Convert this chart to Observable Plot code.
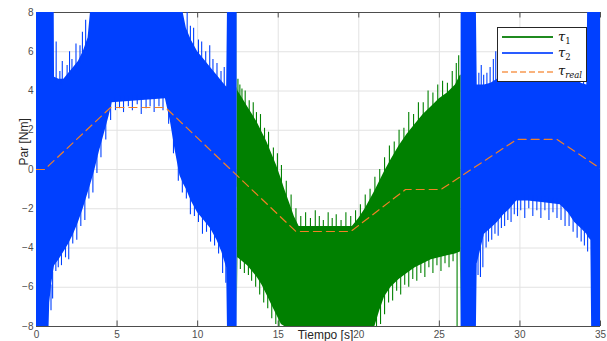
<!DOCTYPE html>
<html>
<head>
<meta charset="utf-8">
<script src="https://cdn.jsdelivr.net/npm/d3@7"></script>
<script src="https://cdn.jsdelivr.net/npm/@observablehq/plot@0.6"></script>
<style>
  body { margin: 0; background: #fff; }
  #wrap { position: relative; width: 607px; height: 341px; overflow: hidden; }
  #legend { position: absolute; left: 497px; top: 27px; width: 88px; height: 53px; border: 1px solid #262626; background: #fff; }
  .sw { position: absolute; left: 4px; width: 51px; height: 2px; }
  .swd { position: absolute; left: 4px; width: 51px; height: 0; border-top: 2px dashed #f9b27c; }
  .lab { position: absolute; left: 60px; font-family: "DejaVu Serif", "Liberation Serif", serif; font-style: italic; font-size: 13px; color: #111; line-height: 16px; white-space: nowrap; }
  .lab sub { font-size: 8.5px; vertical-align: -3px; }
</style>
</head>
<body>
<div id="wrap">
  <div id="chart"></div>
  <div id="legend">
    <div class="sw" style="top:8px; background-color:#1f8a1f"></div>
    <div class="sw" style="top:24px; background-color:#2a5cff"></div>
    <div class="swd" style="top:43px"></div>
    <div class="lab" style="top:1px">τ<sub style="font-style:normal">1</sub></div>
    <div class="lab" style="top:17px">τ<sub style="font-style:normal">2</sub></div>
    <div class="lab" style="top:35px">τ<sub>real</sub></div>
  </div>
</div>
<script>
// Axis ticks
const xTicks = [0, 5, 10, 15, 20, 25, 30, 35];
const yTicks = [-8, -6, -4, -2, 0, 2, 4, 6, 8];

// τ2 (blue), first active interval: time, lower / upper envelope of the dense signal
const tau2aT  = [0, 0.78, 0.82, 0.95, 1.1, 1.12, 1.4, 1.7, 2.0, 2.3, 2.6, 2.9, 3.2, 3.35, 3.6, 3.9, 4.2, 4.5, 4.7, 8.0, 8.3, 8.6, 8.9, 9.1, 9.3, 9.6, 10.0, 10.4, 10.8, 11.2, 11.5, 11.8, 11.85, 12.45];
const tau2aLo = [-8, -8, -6.8, -5.8, -5.0, -4.9, -4.6, -4.2, -3.8, -3.3, -2.7, -2.0, -1.2, -0.8, -0.1, 0.9, 1.8, 2.7, 3.4, 3.6, 2.5, 1.0, -0.3, -0.7, -1.0, -1.6, -2.2, -2.6, -3.0, -3.6, -4.2, -5.0, -8, -8];
const tau2aHi = [8, 8, 8, 8, 8, 4.7, 4.6, 4.6, 4.9, 5.2, 5.5, 6.0, 6.7, 8, 8, 8, 8, 8, 8, 8, 8, 8, 8, 8, 7.2, 6.6, 6.0, 5.6, 5.2, 4.8, 4.5, 4.2, 8, 8];
// spikes of τ2 beyond the envelope (time, tip value)
const tau2aUpT = [1.22, 1.45, 1.6, 1.9, 2.05, 2.2, 2.45, 2.7, 2.85, 3.05, 9.35, 9.55, 9.75, 10.05, 10.25, 10.5, 10.75, 10.95, 11.2, 11.45, 11.65];
const tau2aUpV = [6.5, 5.0, 5.5, 5.3, 6.0, 5.6, 6.4, 6.3, 7.0, 7.6, 8, 7.3, 7.2, 6.6, 6.5, 6.0, 6.3, 5.6, 5.4, 5.0, 5.2];
const tau2aDnT = [0.9, 1.0, 1.2, 1.35, 1.55, 1.8, 2.0, 2.25, 2.5, 2.75, 3.0, 3.25, 3.5, 3.75, 4.0, 4.3, 4.6, 4.9, 5.15, 5.4, 5.7, 5.95, 6.25, 6.5, 6.8, 7.05, 7.3, 7.6, 7.85, 8.2, 8.5, 8.8, 9.05, 9.3, 9.55, 9.8, 10.05, 10.3, 10.55, 10.8, 11.05, 11.3, 11.55, 11.75];
const tau2aDnV = [-7.2, -6.6, -5.2, -5.0, -4.9, -4.5, -4.6, -3.8, -3.6, -2.9, -2.6, -1.5, -1.2, -0.2, 0.6, 1.5, 2.5, 3.0, 3.1, 2.9, 3.2, 3.0, 3.3, 2.8, 3.1, 3.2, 2.9, 3.2, 3.0, 2.3, 0.8, -0.6, -1.2, -1.5, -2.3, -2.4, -2.7, -3.3, -3.2, -3.7, -3.9, -4.3, -5.3, -5.8];

// τ1 (green) active interval
const tau1T  = [12.45, 12.5, 12.8, 13.1, 13.4, 13.7, 14.0, 14.3, 14.6, 14.9, 15.2, 15.4, 15.7, 16.0, 16.3, 19.6, 20.0, 20.4, 20.8, 21.0, 21.3, 21.6, 22.0, 22.5, 23.0, 23.5, 24.0, 24.5, 25.0, 25.5, 26.0, 26.3, 26.35];
const tau1Lo = [-8, -4.5, -4.7, -4.9, -5.2, -5.5, -5.9, -6.4, -6.9, -7.4, -7.9, -8, -8, -8, -8, -8, -8, -8, -8, -8, -7.2, -6.5, -6.0, -5.6, -5.3, -5.0, -4.8, -4.6, -4.5, -4.4, -4.3, -4.2, -8];
const tau1Hi = [4.2, 4.0, 3.6, 3.2, 2.8, 2.4, 1.9, 1.4, 0.8, 0.2, -0.5, -1.0, -1.7, -2.4, -2.9, -2.9, -2.5, -2.0, -1.4, -1.1, -0.6, -0.1, 0.5, 1.2, 1.8, 2.3, 2.8, 3.2, 3.6, 3.9, 4.3, 4.8, 4.8];
const tau1UpT = [12.5, 12.62, 12.75, 12.95, 13.2, 13.45, 13.65, 13.9, 14.15, 14.4, 14.7, 14.95, 15.2, 15.5, 15.8, 16.1, 16.4, 16.7, 17.0, 17.3, 17.55, 17.8, 18.1, 18.35, 18.6, 18.9, 19.2, 19.5, 19.8, 20.1, 20.4, 20.7, 21.0, 21.3, 21.6, 21.9, 22.2, 22.5, 22.8, 23.1, 23.4, 23.7, 24.0, 24.3, 24.6, 24.9, 25.2, 25.5, 25.8, 26.05, 26.2];
const tau1UpV = [4.6, 4.3, 4.1, 4.0, 3.5, 3.4, 2.9, 2.8, 2.1, 1.9, 1.1, 0.8, 0.2, -0.6, -1.3, -2.0, -2.4, -2.2, -2.5, -2.1, -2.4, -2.6, -2.2, -2.5, -2.3, -2.6, -2.2, -2.4, -2.1, -1.8, -1.3, -1.0, -0.4, 0.0, 0.6, 1.2, 1.4, 2.0, 2.1, 2.9, 2.8, 3.4, 3.4, 4.0, 3.9, 4.3, 4.5, 4.4, 5.0, 5.4, 5.8];
const tau1DnT = [12.65, 12.9, 13.15, 13.35, 13.6, 13.85, 14.1, 14.35, 14.6, 14.85, 15.05, 21.1, 21.35, 21.6, 21.85, 22.1, 22.35, 22.6, 22.85, 23.1, 23.35, 23.6, 23.85, 24.1, 24.35, 24.6, 24.85, 25.1, 25.35, 25.6, 25.85, 26.1];
const tau1DnV = [-5.1, -5.3, -5.4, -5.7, -6.0, -6.4, -6.8, -7.1, -7.6, -7.9, -8, -8, -7.9, -7.4, -6.8, -6.7, -6.2, -6.4, -5.9, -6.0, -5.6, -5.7, -5.3, -5.5, -5.0, -5.3, -4.9, -5.2, -4.8, -5.0, -4.7, -8];
// single τ1 excursion at the switch-over
const tau1LineT = [12.36];
const tau1LineLo = [-0.9];
const tau1LineHi = [8];

// τ2 (blue), second active interval
const tau2bT  = [26.35, 27.3, 27.35, 27.8, 28.2, 28.6, 29.0, 29.4, 29.8, 30.5, 31.5, 32.5, 33.0, 33.4, 33.8, 34.15, 34.2, 34.4, 34.45, 35];
const tau2bLo = [-8, -8, -4.8, -3.3, -3.0, -2.7, -2.3, -2.0, -1.6, -1.6, -1.7, -1.8, -2.2, -2.7, -3.0, -3.3, -3.4, -3.6, -8, -8];
const tau2bHi = [8, 8, 4.3, 4.3, 4.4, 4.6, 5.5, 6.0, 6.3, 6.5, 6.5, 6.3, 5.6, 4.8, 4.4, 4.3, 8, 8, 8, 8];
const tau2bUpT = [27.45, 27.6, 27.75, 27.95, 28.15, 28.35, 28.5, 33.5, 33.7, 33.95];
const tau2bUpV = [4.9, 5.3, 4.8, 4.9, 5.2, 5.6, 6.0, 5.2, 5.0, 4.8];
const tau2bDnT = [27.4, 27.55, 27.7, 27.9, 28.05, 28.25, 28.45, 28.65, 28.85, 29.05, 29.25, 29.45, 29.65, 29.85, 30.05, 30.3, 30.55, 30.8, 31.05, 31.3, 31.55, 31.8, 32.05, 32.3, 32.55, 32.8, 33.05, 33.3, 33.55, 33.8, 34.0, 34.2];
const tau2bDnV = [-5.4, -5.5, -5.0, -4.0, -3.7, -3.6, -3.3, -3.4, -3.0, -2.9, -2.6, -2.7, -2.3, -2.4, -2.1, -2.5, -2.0, -2.4, -2.1, -2.5, -2.1, -2.6, -2.2, -2.5, -2.6, -2.9, -2.9, -3.2, -3.5, -3.7, -3.9, -4.2];

// τ_real (reference torque)
const realT = [0, 0.5, 4.6, 8.0, 16.1, 19.5, 22.9, 25.1, 29.8, 32.3, 35];
const realV = [0, 0, 3.16, 3.16, -3.16, -3.16, -1.02, -1.02, 1.53, 1.53, 0.05];

// helpers
const env = (T, L, H) => T.map((t, i) => ({t, lo: L[i], hi: H[i]}));
const at = (T, V, t) => {               // value of an envelope at time t
  const i = Math.max(1, d3.bisectLeft(T, t));
  const t0 = T[i - 1], t1 = T[i];
  return t1 === t0 ? V[i] : V[i - 1] + (V[i] - V[i - 1]) * (t - t0) / (t1 - t0);
};
const spikes = (ST, SV, T, E, inward) => ST.map((t, i) => ({t, from: at(T, E, t) + inward, to: SV[i]}));

const blueA = env(tau2aT, tau2aLo, tau2aHi);
const green = env(tau1T, tau1Lo, tau1Hi);
const blueB = env(tau2bT, tau2bLo, tau2bHi);
const real = realT.map((t, i) => ({t, v: realV[i]}));

const blueSpikes = [
  ...spikes(tau2aUpT, tau2aUpV, tau2aT, tau2aHi, -0.3),
  ...spikes(tau2aDnT, tau2aDnV, tau2aT, tau2aLo, 0.3),
  ...spikes(tau2bUpT, tau2bUpV, tau2bT, tau2bHi, -0.3),
  ...spikes(tau2bDnT, tau2bDnV, tau2bT, tau2bLo, 0.3)
];
const greenSpikes = [
  ...spikes(tau1UpT, tau1UpV, tau1T, tau1Hi, -0.3),
  ...spikes(tau1DnT, tau1DnV, tau1T, tau1Lo, 0.3),
  ...tau1LineT.map((t, i) => ({t, from: tau1LineLo[i], to: tau1LineHi[i]}))
];

const BLUE = "#0040ff", GREEN = "#008000", ORANGE = "#f28025", AXIS = "#4d4d4d";

const chart = Plot.plot({
  width: 607, height: 341,
  marginLeft: 36, marginRight: 7, marginTop: 12, marginBottom: 15,
  x: {domain: [0, 35]},
  y: {domain: [-8, 8]},
  style: {fontFamily: "'Liberation Sans', Arial, sans-serif", fontSize: "10px", color: AXIS, background: "#fff"},
  marks: [
    Plot.gridX(xTicks, {stroke: "#e2e2e2", strokeOpacity: 1}),
    Plot.gridY(yTicks, {stroke: "#e2e2e2", strokeOpacity: 1}),
    Plot.ruleY([-8, 8], {stroke: AXIS}),
    Plot.ruleX(xTicks, {y1: -8, y2: -7.72, stroke: AXIS}),
    Plot.ruleX(xTicks, {y1: 8, y2: 7.72, stroke: AXIS}),
    Plot.areaY(green, {x: "t", y1: "lo", y2: "hi", fill: GREEN, clip: true}),
    Plot.ruleX(greenSpikes, {x: "t", y1: "from", y2: "to", stroke: GREEN, strokeWidth: 1.1, clip: true}),
    Plot.areaY(blueA, {x: "t", y1: "lo", y2: "hi", fill: BLUE, clip: true}),
    Plot.areaY(blueB, {x: "t", y1: "lo", y2: "hi", fill: BLUE, clip: true}),
    Plot.ruleX(blueSpikes, {x: "t", y1: "from", y2: "to", stroke: BLUE, strokeWidth: 1.1, clip: true}),
    Plot.line(real, {x: "t", y: "v", stroke: ORANGE, strokeWidth: 1.2, strokeDasharray: "8,5", clip: true}),
    Plot.axisX(xTicks, {tickSize: 0, tickPadding: 4, label: null}),
    Plot.axisY(yTicks, {tickSize: 0, tickPadding: 3, label: null}),
    Plot.text(["Tiempo [s]"], {frameAnchor: "bottom", dx: 7, dy: 12, fontSize: 12, fill: "#262626"}),
    Plot.text(["Par [Nm]"], {frameAnchor: "left", rotate: -90, dx: -12, dy: -4, fontSize: 12, fill: "#262626"})
  ]
});
document.getElementById("chart").appendChild(chart);
</script>
</body>
</html>
